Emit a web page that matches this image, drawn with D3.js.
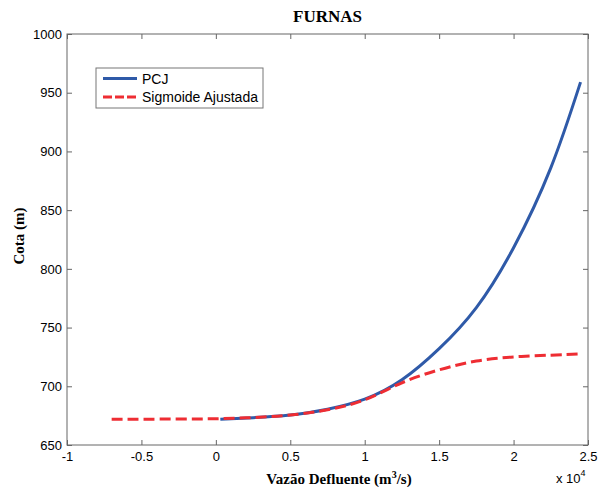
<!DOCTYPE html>
<html>
<head>
<meta charset="utf-8">
<script src="https://cdn.jsdelivr.net/npm/d3@7"></script>
<style>
  body { margin: 0; background: #fff; }
  svg { display: block; }
</style>
</head>
<body>
<svg id="chart"></svg>
<script>
// vazao in units of 1e4 m3/s, cota in m
const pcjQ = [0.03, 0.25, 0.5, 0.75, 1.0, 1.25, 1.5, 1.75, 2.0, 2.25, 2.45];
const pcjCota = [672, 673.3, 675.5, 680.5, 689, 705.5, 732, 767, 818, 886, 959];

const sigQ = [-0.7, -0.5, -0.25, 0, 0.25, 0.5, 0.75, 1.0, 1.25, 1.5, 1.75, 2.0, 2.25, 2.45];
const sigCota = [672, 672, 672.1, 672.4, 673.4, 675.5, 680, 688.5, 703, 714, 721.5, 725, 726.5, 727.5];

const xTicks = [-1, -0.5, 0, 0.5, 1, 1.5, 2, 2.5];
const yTicks = [650, 700, 750, 800, 850, 900, 950, 1000];

const cfg = {
  width: 600,
  height: 487,
  left: 67,
  right: 588,
  top: 34,
  bottom: 445,
  axisColor: '#666',
  blue: '#2f5aa8',
  red: '#ee2d33',
  sans: '"Liberation Sans", Arial, Helvetica, sans-serif',
  serif: '"Liberation Serif", "Times New Roman", Times, serif',
};

const svg = d3.select('#chart')
  .attr('width', cfg.width)
  .attr('height', cfg.height);

const x = d3.scaleLinear().domain([-1, 2.5]).range([cfg.left, cfg.right]);
const y = d3.scaleLinear().domain([650, 1000]).range([cfg.bottom, cfg.top]);

// lines
const line = d3.line()
  .x(d => x(d[0]))
  .y(d => y(d[1]))
  .curve(d3.curveNatural);

svg.append('path')
  .datum(pcjQ.map((q, i) => [q, pcjCota[i]]))
  .attr('d', line)
  .attr('fill', 'none')
  .attr('stroke', cfg.blue)
  .attr('stroke-width', 3);

svg.append('path')
  .datum(sigQ.map((q, i) => [q, sigCota[i]]))
  .attr('d', line)
  .attr('fill', 'none')
  .attr('stroke', cfg.red)
  .attr('stroke-width', 3)
  .attr('stroke-dasharray', '11,5');

// axes (ticks pointing inward)
const fmt = d => String(d);

const styleAxis = g => {
  g.select('.domain').remove();
  g.selectAll('.tick line').attr('stroke', cfg.axisColor);
  g.selectAll('.tick text')
    .attr('fill', '#000')
    .style('font-family', cfg.sans)
    .style('font-size', '13px');
};

svg.append('g')
  .attr('transform', `translate(0,${cfg.bottom})`)
  .call(d3.axisBottom(x).tickValues(xTicks).tickFormat(fmt).tickSizeInner(-5).tickSizeOuter(0).tickPadding(7))
  .call(styleAxis);

svg.append('g')
  .attr('transform', `translate(0,${cfg.top})`)
  .call(d3.axisTop(x).tickValues(xTicks).tickFormat('').tickSizeInner(-5).tickSizeOuter(0))
  .call(styleAxis);

svg.append('g')
  .attr('transform', `translate(${cfg.left},0)`)
  .call(d3.axisLeft(y).tickValues(yTicks).tickFormat(fmt).tickSizeInner(-5).tickSizeOuter(0).tickPadding(5))
  .call(styleAxis);

svg.append('g')
  .attr('transform', `translate(${cfg.right},0)`)
  .call(d3.axisRight(y).tickValues(yTicks).tickFormat('').tickSizeInner(-5).tickSizeOuter(0))
  .call(styleAxis);

// frame
svg.append('rect')
  .attr('x', cfg.left)
  .attr('y', cfg.top)
  .attr('width', cfg.right - cfg.left)
  .attr('height', cfg.bottom - cfg.top)
  .attr('fill', 'none')
  .attr('stroke', cfg.axisColor)
  .attr('stroke-width', 1);

// exponent label
const expo = svg.append('text')
  .attr('x', 556)
  .attr('y', 483)
  .style('font-family', cfg.sans)
  .style('font-size', '13px');
expo.append('tspan').text('x 10');
expo.append('tspan').attr('dy', -7).style('font-size', '9px').text('4');

// title
svg.append('text')
  .attr('x', (cfg.left + cfg.right) / 2)
  .attr('y', 22)
  .attr('text-anchor', 'middle')
  .style('font-family', cfg.serif)
  .style('font-weight', 'bold')
  .style('font-size', '17px')
  .text('FURNAS');

// x label
const xl = svg.append('text')
  .attr('x', 339)
  .attr('y', 484)
  .attr('text-anchor', 'middle')
  .style('font-family', cfg.serif)
  .style('font-weight', 'bold')
  .style('font-size', '15px');
xl.append('tspan').text('Vazão Defluente (m');
xl.append('tspan').attr('dy', -6).style('font-size', '10px').text('3');
xl.append('tspan').attr('dy', 6).text('/s)');

// y label
svg.append('text')
  .attr('transform', 'translate(24,236) rotate(-90)')
  .attr('text-anchor', 'middle')
  .style('font-family', cfg.serif)
  .style('font-weight', 'bold')
  .style('font-size', '15px')
  .text('Cota (m)');

// legend
const legend = svg.append('g');
legend.append('rect')
  .attr('x', 96)
  .attr('y', 68)
  .attr('width', 167)
  .attr('height', 40)
  .attr('fill', '#fff')
  .attr('stroke', '#777')
  .attr('stroke-width', 1);

const legendItems = [
  { label: 'PCJ', color: cfg.blue, dash: null },
  { label: 'Sigmoide Ajustada', color: cfg.red, dash: '9,3' },
];

legendItems.forEach((d, i) => {
  const ly = 78.5 + i * 18.5;
  legend.append('line')
    .attr('x1', 103)
    .attr('x2', 137)
    .attr('y1', ly)
    .attr('y2', ly)
    .attr('stroke', d.color)
    .attr('stroke-width', 3)
    .attr('stroke-dasharray', d.dash);
  legend.append('text')
    .attr('x', 142)
    .attr('y', ly + 5)
    .style('font-family', cfg.sans)
    .style('font-size', '14px')
    .text(d.label);
});
</script>
</body>
</html>
